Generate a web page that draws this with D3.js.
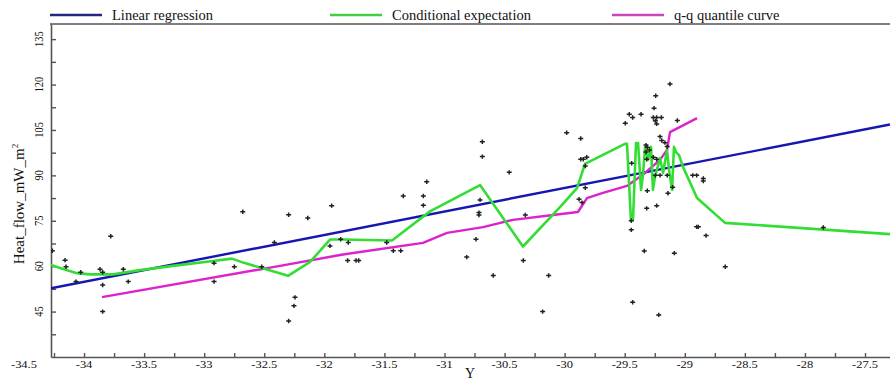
<!DOCTYPE html>
<html>
<head>
<meta charset="utf-8">
<script src="https://cdn.jsdelivr.net/npm/d3@7"></script>
<style>
  html, body { margin: 0; padding: 0; background: #fff; }
</style>
</head>
<body>
<script>
const xTicks = [-34.5, -34, -33.5, -33, -32.5, -32, -31.5, -31, -30.5, -30, -29.5, -29, -28.5, -28, -27.5];
const yTicks = [45, 60, 75, 90, 105, 120, 135];

const seriesNames = ['Linear regression', 'Conditional expectation', 'q-q quantile curve'];

const pointX = [-34.264,-34.158,-34.150,-34.067,-34.028,-33.867,-33.845,-33.845,-33.845,-33.778,
  -33.673,-33.632,-32.918,-32.918,-32.749,-32.679,-32.521,-32.416,-32.297,-32.244,
  -32.253,-32.297,-32.138,-31.953,-31.939,-31.864,-31.801,-31.806,-31.736,-31.714,
  -31.481,-31.426,-31.364,-31.343,-31.176,-31.176,-31.148,-30.815,-30.738,-30.713,
  -30.713,-30.704,-30.685,-30.685,-30.594,-30.461,-30.344,-30.327,-30.183,-30.133,
  -29.983,-29.866,-29.866,-29.845,-29.816,-29.828,-29.828,-29.880,-29.855,-29.495,
  -29.462,-29.434,-29.364,-29.262,-29.234,-29.195,-29.245,-29.234,-29.256,-29.242,
  -29.123,-29.062,-29.323,-29.312,-29.295,-29.323,-29.206,-29.192,-29.165,-29.146,
  -29.317,-29.262,-29.234,-29.245,-29.206,-29.146,-29.312,-29.140,-29.101,-29.317,
  -29.234,-28.934,-28.901,-28.846,-28.846,-29.445,-29.445,-28.901,-28.887,-28.823,
  -29.337,-29.087,-28.663,-29.434,-29.217,-27.847,-29.442];
const pointHeat = [65.1,62.0,59.8,54.9,58.0,59.0,58.0,53.8,45.0,69.9,
  59.0,54.9,61.0,54.9,59.8,78.0,59.8,67.8,77.0,49.7,
  46.9,41.9,75.9,66.7,80.0,68.9,67.8,61.9,61.9,61.9,
  67.8,65.1,65.1,83.2,83.2,80.1,87.9,63.0,68.9,77.7,
  76.9,81.9,96.2,101.1,56.9,91.0,61.9,76.9,45.0,56.9,
  104.1,102.2,95.3,95.3,96.0,93.1,85.9,82.1,81.0,107.2,
  110.2,109.1,110.2,109.1,109.1,109.1,108.0,107.0,112.2,116.3,
  120.2,108.1,100.0,99.3,98.4,97.7,102.8,101.5,100.8,99.5,
  95.3,96.0,95.3,90.0,90.0,90.0,84.9,84.1,86.1,79.1,
  80.0,90.0,90.0,89.0,88.1,75.0,72.0,73.0,73.0,70.1,
  65.0,64.3,59.8,48.1,43.9,72.8,94.0];

const regX = [-34.275, -27.292];
const regHeat = [52.7, 106.8];

const condX = [-34.275,-34.200,-34.059,-33.950,-33.759,-33.534,-33.260,-32.927,-32.769,-32.669,
  -32.477,-32.302,-32.119,-31.953,-31.845,-31.437,-31.121,-30.704,-30.347,-30.039,
  -29.897,-29.855,-29.831,-29.498,-29.481,-29.448,-29.431,-29.406,-29.389,-29.364,
  -29.348,-29.331,-29.306,-29.281,-29.265,-29.248,-29.206,-29.181,-29.148,-29.131,
  -29.106,-29.090,-29.073,-29.048,-29.015,-28.898,-28.665,-27.292];
const condHeat = [60.4,59.4,57.7,57.3,57.3,58.7,60.1,61.7,62.5,61.1,
  58.9,56.8,61.4,68.8,68.8,68.5,78.1,86.8,66.5,79.5,
  85.8,90.8,93.8,100.4,100.4,75.3,75.3,100.7,100.7,85.2,
  90.1,99.4,95.1,99.4,85.2,89.5,95.7,90.8,98.4,91.8,
  85.2,99.4,97.7,96.7,92.8,82.5,74.3,70.6];

const qqX = [-33.851,-32.369,-31.870,-31.703,-31.179,-30.979,-30.679,-30.430,-30.097,-29.889,
  -29.814,-29.681,-29.481,-29.331,-29.206,-29.148,-29.123,-28.898];
const qqHeat = [49.8,60.1,63.7,64.7,67.7,71.0,72.9,75.3,76.9,77.9,
  82.5,84.2,86.5,90.8,95.1,98.4,104.3,108.9];

const width = 890;
const height = 380;
const margin = { top: 24, right: 0, bottom: 23, left: 51 };
const lineColors = ['#1616b0', '#33dd33', '#dd22cc'];
const legendColors = ['#262680', '#44cc44', '#cc44bb'];
const serif = '"Liberation Serif", "Times New Roman", "DejaVu Serif", serif';

const svg = d3.select('body').append('svg')
    .attr('width', width)
    .attr('height', height)
    .attr('font-family', serif)
    .style('font-family', serif);

const x = d3.scaleLinear()
    .domain([-34.275, -27.292])
    .range([margin.left, width - margin.right]);

const y = d3.scaleLinear()
    .domain([30, 140])
    .range([height - margin.bottom, margin.top]);

svg.append('defs').append('clipPath')
    .attr('id', 'plot')
    .append('rect')
    .attr('x', margin.left)
    .attr('y', margin.top)
    .attr('width', width - margin.left)
    .attr('height', height - margin.bottom - margin.top);

// x axis: ticks every 0.25, labels on the half units
const xMinor = d3.range(-34.25, -27.3, 0.25);
const xAxis = svg.append('g')
    .attr('transform', `translate(0,${height - margin.bottom})`)
    .call(d3.axisBottom(x).tickValues(xMinor).tickSizeInner(-4).tickSizeOuter(0).tickFormat(''));
xAxis.select('.domain').attr('stroke', '#555').attr('stroke-width', 1.6);
xAxis.selectAll('.tick line').attr('stroke', '#555').attr('stroke-width', 1.4);

svg.append('g')
    .selectAll('text')
    .data(xTicks)
    .join('text')
    .attr('transform', d => `translate(${x(d)},${height - margin.bottom + 11}) scale(1,0.8)`)
    .attr('text-anchor', 'middle')
    .attr('fill', '#111')
    .style('font-size', '12.5px')
    .text(d => d);

// y axis: ticks every 7.5, labels every 15
const yMinor = d3.range(37.5, 136, 7.5);
const yAxis = svg.append('g')
    .attr('transform', `translate(${margin.left},0)`)
    .call(d3.axisLeft(y).tickValues(yMinor).tickSizeInner(-5).tickSizeOuter(0).tickFormat(''));
yAxis.select('.domain').attr('stroke', '#555').attr('stroke-width', 1.6);
yAxis.selectAll('.tick line').attr('stroke', '#555').attr('stroke-width', 1.4);

svg.append('g')
    .selectAll('text')
    .data(yTicks)
    .join('text')
    .attr('transform', d => `translate(43,${y(d)}) rotate(-90) scale(0.8,1)`)
    .attr('text-anchor', 'middle')
    .attr('fill', '#111')
    .style('font-size', '13px')
    .text(d => d);

svg.append('line')
    .attr('x1', margin.left - 1)
    .attr('x2', width)
    .attr('y1', margin.top)
    .attr('y2', margin.top)
    .attr('stroke', '#555')
    .attr('stroke-width', 1.6);

svg.append('text')
    .attr('transform', 'translate(24,204) rotate(-90)')
    .attr('text-anchor', 'middle')
    .attr('fill', '#111')
    .style('font-size', '15px')
    .html('Heat_flow_mW_m<tspan dy="-6" font-size="9">2</tspan>');

svg.append('text')
    .attr('x', 470)
    .attr('y', 378)
    .attr('text-anchor', 'middle')
    .attr('fill', '#111')
    .style('font-size', '14px')
    .text('Y');

// legend
const legendX = [50, 330, 612];
const legend = svg.append('g')
    .selectAll('g')
    .data(seriesNames)
    .join('g')
    .attr('transform', (d, i) => `translate(${legendX[i]},15)`);
legend.append('line')
    .attr('x1', 0)
    .attr('x2', 52)
    .attr('stroke', (d, i) => legendColors[i])
    .attr('stroke-width', 2.5);
legend.append('text')
    .attr('x', 62)
    .attr('y', 4.5)
    .attr('fill', '#111')
    .style('font-size', '14.5px')
    .text(d => d);

const plot = svg.append('g').attr('clip-path', 'url(#plot)');

const line = d3.line()
    .x(d => x(d[0]))
    .y(d => y(d[1]));

const series = [d3.zip(regX, regHeat), d3.zip(condX, condHeat), d3.zip(qqX, qqHeat)];
const drawOrder = [0, 2, 1];

plot.selectAll('path.series')
    .data(drawOrder)
    .join('path')
    .attr('class', 'series')
    .attr('fill', 'none')
    .attr('stroke', i => lineColors[i])
    .attr('stroke-width', i => i === 1 ? 2.6 : 2.4)
    .attr('stroke-linejoin', 'round')
    .attr('d', i => line(series[i]));

plot.append('g')
    .selectAll('path')
    .data(d3.zip(pointX, pointHeat))
    .join('path')
    .attr('transform', d => `translate(${x(d[0])},${y(d[1])})`)
    .attr('d', 'M-2.5,0H2.5M0,-2.2V2.2')
    .attr('stroke', '#222')
    .attr('stroke-width', 1.5);
</script>
</body>
</html>
